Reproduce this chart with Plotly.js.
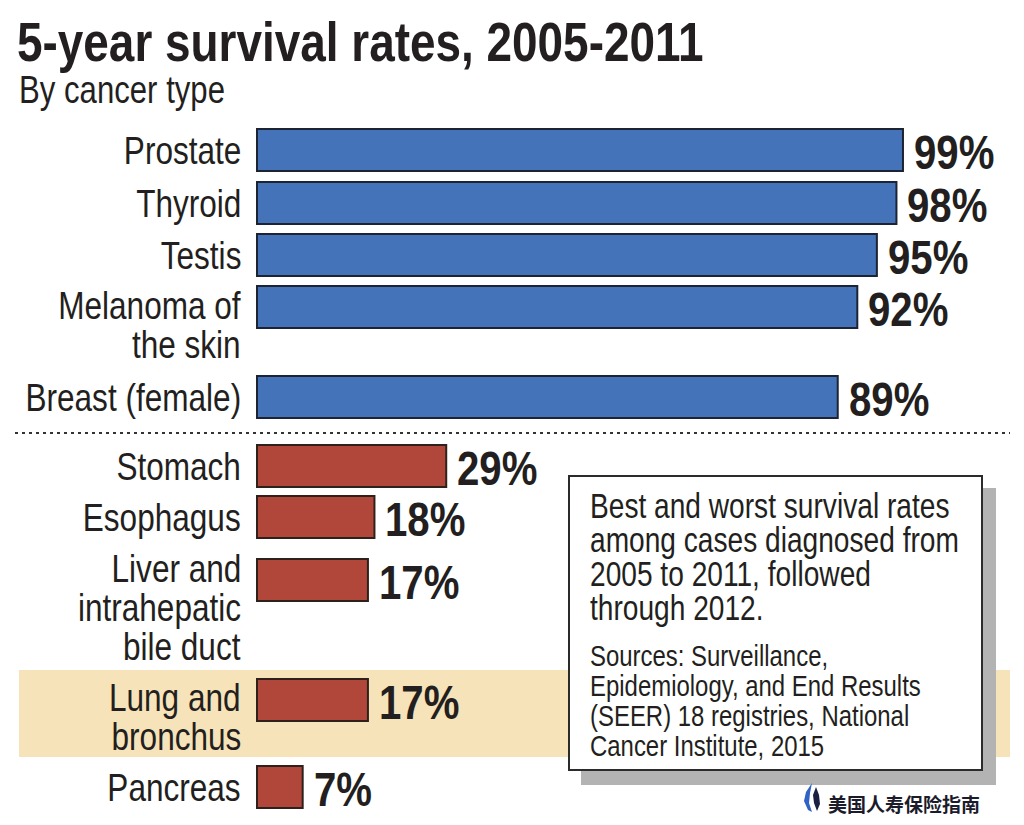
<!DOCTYPE html>
<html>
<head>
<meta charset="utf-8">
<script src="https://cdn.plot.ly/plotly-3.0.1.min.js"></script>
<style>html,body{margin:0;padding:0;background:#fff;}#chart{width:1024px;height:825px;}</style>
</head>
<body>
<div id="chart"></div>
<script>
// ---- data ----
const bestCats = ["Prostate", "Thyroid", "Testis", "Melanoma of\nthe skin", "Breast (female)"];
const bestVals = [99, 98, 95, 92, 89];
const worstCats = ["Stomach", "Esophagus", "Liver and\nintrahepatic\nbile duct", "Lung and\nbronchus", "Pancreas"];
const worstVals = [29, 18, 17, 17, 7];
const highlightCat = "Lung and\nbronchus";
const titleText = "5-year survival rates, 2005-2011";
const subtitleText = "By cancer type";
const noteLines = ["Best and worst survival rates", "among cases diagnosed from", "2005 to 2011, followed", "through 2012."];
const sourceLines = ["Sources: Surveillance,", "Epidemiology, and End Results", "(SEER) 18 registries, National", "Cancer Institute, 2015"];
const watermarkText = "美国人寿保险指南";

// ---- layout (pixel positions of rows, not data) ----
const W = 1024, H = 825;
const bestRowY = [150, 203, 255, 307, 397];
const worstRowY = [466, 517, 580, 700, 787];
const bestLabelShift = [0, 0, 0, -2, 0];
const worstLabelShift = [0, 0, -12, -3, 0];
const LINE_H = 39;
const FONT = '"Liberation Sans", Arial, sans-serif';
const NARROW = 0.82;
const TXT = '#231f20';
const px = x => x / W;
const pyp = y => 1 - y / H;

const pxPerUnit = 6.525, zeroPx = 257;
const xRange = [-zeroPx / pxPerUnit, (W - zeroPx) / pxPerUnit];

const traces = [
  {type: 'bar', orientation: 'h', x: bestVals, y: bestRowY, width: 42,
   marker: {color: '#4473b9', line: {color: '#1c2433', width: 2}}, hoverinfo: 'skip'},
  {type: 'bar', orientation: 'h', x: worstVals, y: worstRowY, width: 42,
   marker: {color: '#b0473a', line: {color: '#2e211c', width: 2}}, hoverinfo: 'skip'}
];

const annotations = [];
function addLabels(cats, rows, shifts) {
  cats.forEach((c, i) => {
    c.split('\n').forEach((line, j) => {
      annotations.push({xref: 'paper', yref: 'y', x: px(243), y: rows[i] + shifts[i] + j * LINE_H,
        xanchor: 'right', yanchor: 'middle', align: 'right', text: line, showarrow: false,
        font: {family: FONT, size: 38.5, color: TXT}});
    });
  });
}
function addValues(vals, rows) {
  vals.forEach((v, i) => {
    annotations.push({xref: 'x', yref: 'y', x: v, y: rows[i] + 2, xanchor: 'left', yanchor: 'middle', align: 'left',
      xshift: 9, text: '<b>' + v + '%</b>', showarrow: false,
      font: {family: FONT, size: 49, color: TXT}});
  });
}
addLabels(bestCats, bestRowY, bestLabelShift);
addLabels(worstCats, worstRowY, worstLabelShift);
addValues(bestVals, bestRowY);
addValues(worstVals, worstRowY);

annotations.push({xref: 'paper', yref: 'paper', x: px(15), y: pyp(42), xanchor: 'left', yanchor: 'middle', align: 'left',
  text: '<b>' + titleText + '</b>', showarrow: false, font: {family: FONT, size: 56, color: TXT}});
annotations.push({xref: 'paper', yref: 'paper', x: px(17), y: pyp(90), xanchor: 'left', yanchor: 'middle', align: 'left',
  text: subtitleText, showarrow: false, font: {family: FONT, size: 38, color: TXT}});

noteLines.forEach((l, i) => {
  annotations.push({xref: 'paper', yref: 'paper', x: px(588), y: pyp(506 + i * 34), xanchor: 'left', yanchor: 'middle', align: 'left',
    text: l, showarrow: false, font: {family: FONT, size: 34.3, color: TXT}});
});
sourceLines.forEach((l, i) => {
  annotations.push({xref: 'paper', yref: 'paper', x: px(588), y: pyp(656 + i * 30), xanchor: 'left', yanchor: 'middle', align: 'left',
    text: l, showarrow: false, font: {family: FONT, size: 29.2, color: TXT}});
});
annotations.push({xref: 'paper', yref: 'paper', x: px(826), y: pyp(803), xanchor: 'left', yanchor: 'middle', align: 'left',
  text: '<b>' + watermarkText + '</b>', showarrow: false,
  font: {family: '"Noto Sans CJK SC", sans-serif', size: 19, color: '#1b1b2b'}});

const allCats = bestCats.concat(worstCats);
const allRows = bestRowY.concat(worstRowY);
const hiRow = allRows[allCats.indexOf(highlightCat)];

const flame = (pts) => 'M ' + pts.map(p => px(p[0]) + ' ' + pyp(p[1])).join(' L ') + ' Z';

const shapes = [
  {type: 'rect', xref: 'paper', yref: 'y', x0: px(19), x1: px(1010), y0: hiRow - 30, y1: hiRow + 57,
   fillcolor: '#f7e3b9', line: {width: 0}, layer: 'below'},
  {type: 'line', xref: 'paper', yref: 'paper', x0: px(15), x1: px(1010), y0: pyp(433), y1: pyp(433),
   line: {color: '#333', width: 2, dash: '3px,4px'}},
  {type: 'rect', xref: 'paper', yref: 'paper', x0: px(581), x1: px(996), y0: pyp(488), y1: pyp(785),
   fillcolor: '#b3b3b3', line: {width: 0}},
  {type: 'rect', xref: 'paper', yref: 'paper', x0: px(569), x1: px(982), y0: pyp(476), y1: pyp(770),
   fillcolor: '#ffffff', line: {color: '#2b2b2b', width: 2}},
  {type: 'path', xref: 'paper', yref: 'paper',
   path: flame([[812, 783], [806, 792], [804, 801], [808, 810], [812, 812], [809, 803], [810, 793]]),
   fillcolor: '#2f63c4', line: {width: 0}},
  {type: 'path', xref: 'paper', yref: 'paper',
   path: flame([[816, 787], [813, 795], [814, 803], [817, 811], [820, 804], [819, 795]]),
   fillcolor: '#1b2140', line: {width: 0}}
];

const layout = {
  width: W, height: H,
  margin: {l: 0, r: 0, t: 0, b: 0},
  paper_bgcolor: '#fff', plot_bgcolor: 'rgba(0,0,0,0)',
  showlegend: false, barmode: 'overlay',
  xaxis: {range: xRange, visible: false, fixedrange: true},
  yaxis: {range: [H, 0], visible: false, fixedrange: true},
  annotations: annotations, shapes: shapes
};
Plotly.newPlot('chart', traces, layout, {staticPlot: true, displayModeBar: false}).then(gd => {
  // condensed lettering: narrow each Latin text horizontally around its anchor
  gd.querySelectorAll('text.annotation-text').forEach(t => {
    if (t.textContent === watermarkText) return;
    const a = t.getAttribute('text-anchor');
    t.style.transformBox = 'fill-box';
    t.style.transformOrigin = a === 'end' ? 'right center' : (a === 'start' ? 'left center' : 'center center');
    t.style.transform = 'scaleX(' + NARROW + ')';
  });
});
</script>
</body>
</html>
